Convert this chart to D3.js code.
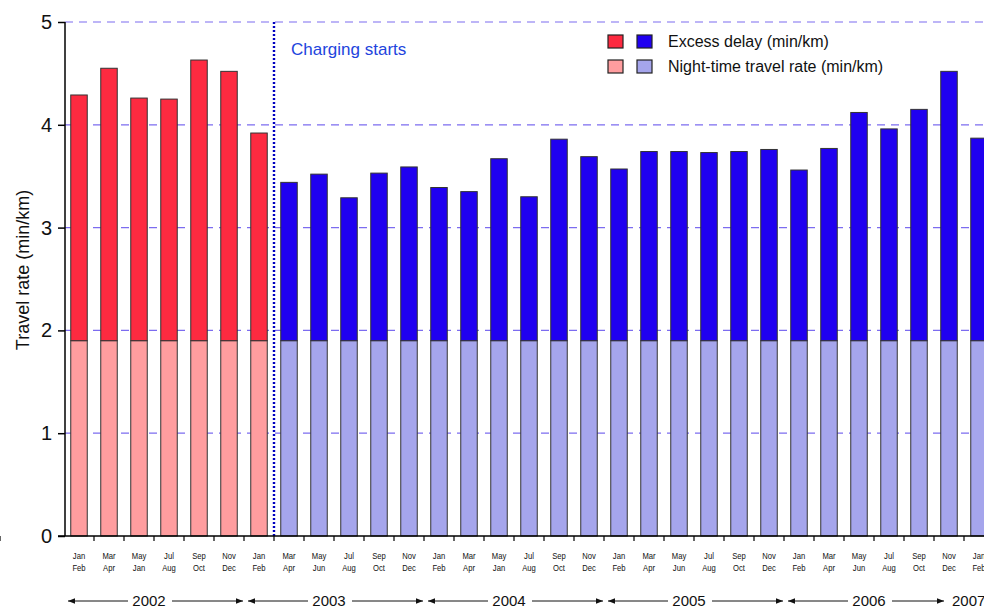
<!DOCTYPE html>
<html>
<head>
<meta charset="utf-8">
<script src="https://cdn.jsdelivr.net/npm/d3@7"></script>
<style>
  body { margin: 0; background: #fff; }
  svg { display: block; }
</style>
</head>
<body>
<div id="chart"></div>
<script>
// two-month periods, Jan/Feb 2002 to Jan/Feb 2007
const monthTop = ["Jan","Mar","May","Jul","Sep","Nov","Jan","Mar","May","Jul","Sep","Nov",
  "Jan","Mar","May","Jul","Sep","Nov","Jan","Mar","May","Jul","Sep","Nov",
  "Jan","Mar","May","Jul","Sep","Nov","Jan"];
const monthBottom = ["Feb","Apr","Jan","Aug","Oct","Dec","Feb","Apr","Jun","Aug","Oct","Dec",
  "Feb","Apr","Jan","Aug","Oct","Dec","Feb","Apr","Jun","Aug","Oct","Dec",
  "Feb","Apr","Jun","Aug","Oct","Dec","Feb"];
const nightRate = [1.9,1.9,1.9,1.9,1.9,1.9,1.9,1.9,1.9,1.9,1.9,1.9,1.9,1.9,1.9,1.9,
  1.9,1.9,1.9,1.9,1.9,1.9,1.9,1.9,1.9,1.9,1.9,1.9,1.9,1.9,1.9];
const excessDelay = [2.39,2.65,2.36,2.35,2.73,2.62,2.02,1.54,1.62,1.39,1.63,1.69,
  1.49,1.45,1.77,1.40,1.96,1.79,1.67,1.84,1.84,1.83,1.84,1.86,
  1.66,1.87,2.22,2.06,2.25,2.62,1.97];
const years = ["2002","2003","2004","2005","2006","2007"];
const yearStart = [0, 6, 12, 18, 24, 30];
const chargeStart = 7; // first period after congestion charging began
const yTicks = [0, 1, 2, 3, 4, 5];

const W = 984, H = 609;
const margin = { top: 22, left: 65, bottom: 73 };
const font = "'Liberation Sans', Arial, sans-serif";

const svg = d3.select("#chart").append("svg")
  .attr("width", W).attr("height", H)
  .attr("font-family", font);

const idx = d3.range(excessDelay.length);
const x = d3.scaleBand()
  .domain(idx)
  .range([margin.left - 1, margin.left - 1 + 30 * idx.length])
  .paddingInner(0.45)
  .paddingOuter(0.225);
const step = x.step();
const edge = i => x(i) - x.paddingInner() * step / 2;

const y = d3.scaleLinear()
  .domain([0, 5])
  .range([H - margin.bottom, margin.top]);

// grid
svg.append("g")
  .selectAll("line")
  .data(yTicks.filter(d => d > 0))
  .join("line")
  .attr("x1", margin.left).attr("x2", W)
  .attr("y1", d => y(d)).attr("y2", d => y(d))
  .attr("stroke", "#7c6cf0")
  .attr("stroke-width", 1.2)
  .attr("stroke-dasharray", "8,6");

// bars
const before = i => i < chargeStart;
const bars = svg.append("g");
bars.selectAll("rect.night")
  .data(idx)
  .join("rect")
  .attr("class", "night")
  .attr("x", i => x(i))
  .attr("width", x.bandwidth())
  .attr("y", i => y(nightRate[i]))
  .attr("height", i => y(0) - y(nightRate[i]))
  .attr("fill", i => before(i) ? "#ff9d9f" : "#a5a5ec")
  .attr("stroke", "#333")
  .attr("stroke-width", 1);
bars.selectAll("rect.excess")
  .data(idx)
  .join("rect")
  .attr("class", "excess")
  .attr("x", i => x(i))
  .attr("width", x.bandwidth())
  .attr("y", i => y(nightRate[i] + excessDelay[i]))
  .attr("height", i => y(nightRate[i]) - y(nightRate[i] + excessDelay[i]))
  .attr("fill", i => before(i) ? "#fd2a40" : "#2000f0")
  .attr("stroke", "#333")
  .attr("stroke-width", 1);

// charging line
const cx = edge(chargeStart);
svg.append("line")
  .attr("x1", cx).attr("x2", cx)
  .attr("y1", y(5)).attr("y2", y(0))
  .attr("stroke", "#0000c0")
  .attr("stroke-width", 2.4)
  .attr("stroke-dasharray", "2,2");
svg.append("text")
  .attr("x", cx + 17).attr("y", 55)
  .attr("font-size", 17)
  .attr("fill", "#2244dd")
  .text("Charging starts");

// y axis
const yAxis = svg.append("g")
  .attr("transform", `translate(${margin.left},0)`)
  .call(d3.axisLeft(y).tickValues(yTicks).tickFormat(d3.format("d")).tickSize(7).tickPadding(6));
yAxis.select(".domain").attr("stroke", "#000").attr("stroke-width", 1.5).attr("d", `M0,${y(5)}V${y(0)}`);
yAxis.selectAll(".tick line").attr("stroke", "#000").attr("stroke-width", 1.5);
yAxis.selectAll(".tick text")
  .attr("font-family", font)
  .attr("font-size", 20)
  .attr("fill", "#111");

svg.append("text")
  .attr("transform", `translate(29,270) rotate(-90)`)
  .attr("text-anchor", "middle")
  .attr("font-size", 18)
  .attr("fill", "#111")
  .text("Travel rate (min/km)");

// x axis
svg.append("line")
  .attr("x1", margin.left - 7).attr("x2", W)
  .attr("y1", y(0)).attr("y2", y(0))
  .attr("stroke", "#000").attr("stroke-width", 1.5);
svg.append("g")
  .selectAll("line")
  .data(idx.map(i => i + 1))
  .join("line")
  .attr("x1", i => edge(i)).attr("x2", i => edge(i))
  .attr("y1", y(0)).attr("y2", y(0) + 5)
  .attr("stroke", "#000").attr("stroke-width", 1.2);

const lab = svg.append("g")
  .attr("font-size", 9)
  .attr("text-anchor", "middle")
  .attr("fill", "#111");
const mid = i => x(i) + x.bandwidth() / 2;
lab.selectAll("text.top")
  .data(idx).join("text").attr("class", "top")
  .attr("transform", i => `translate(${mid(i)},559) scale(0.85,1)`)
  .text(i => monthTop[i]);
lab.selectAll("text.bot")
  .data(idx).join("text").attr("class", "bot")
  .attr("transform", i => `translate(${mid(i)},571) scale(0.85,1)`)
  .text(i => monthBottom[i]);

// year spans with arrows
const defs = svg.append("defs");
defs.append("marker").attr("id", "ah").attr("viewBox", "0 0 10 10")
  .attr("refX", 10).attr("refY", 5).attr("markerWidth", 7).attr("markerHeight", 7)
  .attr("orient", "auto-start-reverse")
  .append("path").attr("d", "M0,1L10,5L0,9Z").attr("fill", "#111");

const yr = svg.append("g");
const yY = 601;
years.forEach((yrLabel, k) => {
  const a = edge(yearStart[k]);
  const last = k === years.length - 1;
  const b = last ? W : edge(yearStart[k + 1]);
  if (last) {
    yr.append("text")
      .attr("x", a - 12).attr("y", yY + 5)
      .attr("font-size", 15).attr("fill", "#111")
      .text(yrLabel);
    return;
  }
  const c = (a + b) / 2 - 5;
  yr.append("text")
    .attr("x", c).attr("y", yY + 5)
    .attr("text-anchor", "middle")
    .attr("font-size", 15).attr("fill", "#111")
    .text(yrLabel);
  const rEnd = k === years.length - 2 ? a + (b - a) * 0.9 - 2 : b - 1;
  yr.append("line")
    .attr("x1", c - 21).attr("x2", a + 4)
    .attr("y1", yY).attr("y2", yY)
    .attr("stroke", "#111").attr("stroke-width", 1)
    .attr("marker-end", "url(#ah)");
  yr.append("line")
    .attr("x1", c + 23).attr("x2", rEnd)
    .attr("y1", yY).attr("y2", yY)
    .attr("stroke", "#111").attr("stroke-width", 1)
    .attr("marker-end", "url(#ah)");
});

// legend
const leg = svg.append("g").attr("font-size", 16).attr("fill", "#111");
const legRows = [
  { label: "Excess delay (min/km)", c1: "#fd2a40", c2: "#2000f0" },
  { label: "Night-time travel rate (min/km)", c1: "#ff9d9f", c2: "#a5a5ec" }
];
legRows.forEach((r, k) => {
  const ly = 35 + k * 25;
  leg.append("rect").attr("x", 608).attr("y", ly).attr("width", 15).attr("height", 13)
    .attr("fill", r.c1).attr("stroke", "#222").attr("stroke-width", 1.2);
  leg.append("rect").attr("x", 637).attr("y", ly).attr("width", 15).attr("height", 13)
    .attr("fill", r.c2).attr("stroke", "#222").attr("stroke-width", 1.2);
  leg.append("text").attr("x", 668).attr("y", ly + 12).text(r.label);
});
</script>
</body>
</html>
